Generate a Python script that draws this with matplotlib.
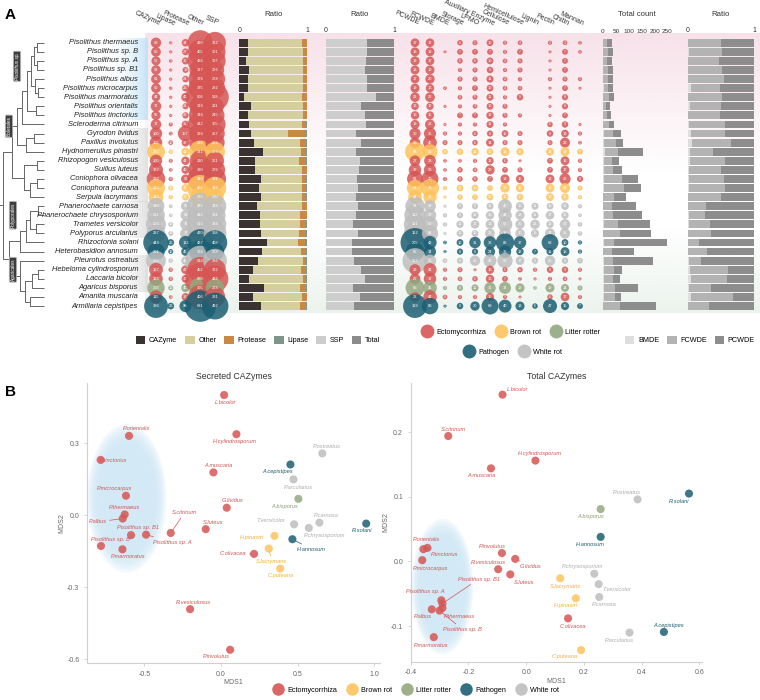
import numpy as np
import matplotlib
matplotlib.use("Agg")
import matplotlib.pyplot as plt
from matplotlib import font_manager as fm
from matplotlib.patches import Patch, Ellipse
from matplotlib.lines import Line2D
from matplotlib.transforms import blended_transform_factory as blend
from matplotlib.colors import to_rgb

W, H = 760, 700
_names = {f.name for f in fm.fontManager.ttflist}
NARROW = "Liberation Sans Narrow" if "Liberation Sans Narrow" in _names else "Liberation Sans"
plt.rcParams["font.family"] = ["Liberation Sans", "DejaVu Sans"]

# ── data ─────────────────────────────────────────────────────────────────────
SPECIES = ["Pisolithus thermaeus", "Pisolithus sp. B", "Pisolithus sp. A", "Pisolithus sp. B1",
           "Pisolithus albus", "Pisolithus microcarpus", "Pisolithus marmoratus",
           "Pisolithus orientalis", "Pisolithus tinctorius", "Scleroderma citrinum",
           "Gyrodon lividus", "Paxillus involutus", "Hydnomerulius pinastri",
           "Rhizopogon vesiculosus", "Suillus luteus", "Coniophora olivacea",
           "Coniophora puteana", "Serpula lacrymans", "Phanerochaete carnosa",
           "Phanerochaete chrysosporium", "Trametes versicolor", "Polyporus arcularius",
           "Rhizoctonia solani", "Heterobasidion annosum", "Pleurotus ostreatus",
           "Hebeloma cylindrosporum", "Laccaria bicolor", "Agaricus bisporus",
           "Amanita muscaria", "Armillaria cepistipes"]
ABBR = ["P.thermaeus", "Pisolithus sp. B", "Pisolithus sp. A", "Pisolithus sp. B1", "P.albus",
        "P.microcarpus", "P.marmoratus", "P.orientalis", "P.tinctorius", "S.citrinum",
        "G.lividus", "P.involutus", "H.pinastri", "R.vesiculosus", "S.luteus", "C.olivacea",
        "C.puteana", "S.lacrymans", "P.carnosa", "P.chrysosporium", "T.versicolor",
        "P.arcularius", "R.solani", "H.annosum", "P.ostreatus", "H.cylindrosporum",
        "L.bicolor", "A.bisporus", "A.muscaria", "A.cepistipes"]
ECOLOGY = ["ECM"] * 12 + ["BR", "ECM", "ECM", "ECM", "BR", "BR", "WR", "WR", "WR", "WR",
                          "PA", "PA", "WR", "ECM", "ECM", "LR", "ECM", "PA"]

# secreted proteins (counts)
cazyme = [68, 60, 52, 58, 61, 60, 44, 72, 55, 72, 100, 105, 212, 100, 132, 232, 216, 146,
          190, 211, 266, 237, 444, 201, 260, 127, 124, 203, 115, 386]
lipase = [2, 2, 3, 2, 2, 3, 2, 2, 2, 6, 5, 10, 8, 6, 4, 8, 12, 8, 5, 4, 12, 12, 26, 12, 8,
          8, 8, 12, 4, 26]
protease = [34, 27, 30, 19, 24, 26, 46, 21, 23, 35, 157, 37, 41, 44, 40, 50, 37, 27, 55, 64,
            74, 74, 113, 45, 45, 47, 37, 45, 37, 96]
other = [430, 405, 436, 317, 376, 375, 606, 316, 346, 412, 326, 336, 341, 290, 390, 440, 467,
         270, 495, 412, 513, 430, 487, 336, 612, 452, 670, 305, 406, 681]
ssp = [322, 301, 307, 226, 278, 282, 518, 211, 245, 305, 257, 253, 266, 221, 276, 331, 346,
       200, 348, 304, 344, 358, 408, 228, 386, 322, 486, 228, 281, 492]

# secreted CAZyme categories (counts)
pcwde = [17, 18, 19, 18, 17, 19, 21, 13, 16, 19, 30, 26, 96, 27, 37, 61, 64, 44, 91, 112,
         121, 122, 205, 85, 153, 29, 27, 86, 22, 139]
fcwde = [17, 18, 17, 19, 20, 16, 22, 12, 15, 23, 35, 45, 54, 33, 36, 70, 79, 43, 34, 37,
         57, 64, 42, 34, 36, 41, 37, 45, 44, 66]
bmde = [0, 1, 0, 0, 0, 2, 0, 1, 0, 1, 3, 5, 6, 2, 2, 3, 3, 1, 1, 3, 3, 1, 2, 1, 4, 3, 3,
        3, 4, 1]
storage = [6, 7, 6, 3, 5, 3, 4, 3, 7, 3, 3, 5, 9, 2, 6, 6, 10, 6, 8, 8, 12, 10, 10, 8, 8,
           5, 4, 8, 3, 9]
lpmo = [5, 7, 6, 5, 5, 7, 5, 4, 7, 3, 6, 6, 12, 3, 4, 6, 10, 7, 8, 12, 17, 10, 31, 8, 25,
        1, 6, 11, 3, 20]
aux_enzyme = [10, 7, 10, 9, 11, 10, 11, 10, 12, 11, 8, 14, 10, 12, 20, 7, 7, 10, 11, 16,
              18, 22, 38, 24, 40, 16, 16, 31, 15, 69]
cellulose = [3, 3, 4, 3, 4, 4, 3, 5, 5, 3, 10, 5, 18, 6, 7, 19, 20, 10, 46, 44, 52, 33, 82,
             36, 56, 5, 7, 34, 3, 40]
hemicellulose = [4, 7, 5, 5, 3, 4, 9, 0, 3, 0, 5, 5, 12, 1, 5, 15, 16, 10, 16, 19, 20, 20,
                 37, 12, 17, 6, 2, 19, 1, 19]
lignin = [0] * 18 + [11, 11, 21, 15, 0, 7, 8, 3, 1, 2, 0, 6]
pectin = [3, 1, 1, 1, 3, 1, 1, 1, 1, 6, 9, 5, 14, 7, 7, 18, 18, 14, 10, 17, 12, 24, 68, 11,
          25, 9, 3, 19, 6, 47]
chitin = [4, 7, 7, 7, 5, 7, 8, 8, 7, 9, 13, 23, 19, 18, 17, 30, 24, 12, 13, 12, 26, 25, 10,
          18, 9, 9, 4, 14, 17, 15]
mannan = [2, 2, 0, 0, 3, 1, 0, 0, 0, 1, 3, 2, 7, 3, 3, 8, 5, 3, 3, 2, 4, 4, 3, 3, 7, 3, 1,
          5, 3, 7]

# NMDS coordinates
sec_mds1 = [-0.628, -0.783, -0.489, -0.587, -0.641, -0.62, -0.643, -0.60, -0.785, -0.328,
            0.037, 0.059, 0.348, -0.202, -0.10, 0.215, 0.385, 0.311, 0.641, 0.572, 0.476,
            0.472, 0.946, 0.465, 0.66, 0.10, 0.02, 0.504, -0.05, 0.452]
sec_mds2 = [0.003, -0.128, -0.081, -0.083, -0.014, 0.081, -0.142, 0.33, 0.23, -0.074, 0.031,
            -0.56, -0.086, -0.391, -0.058, -0.161, -0.222, -0.139, -0.031, -0.053, -0.038,
            0.149, -0.035, -0.10, 0.257, 0.337, 0.50, 0.068, 0.178, 0.211]
tot_mds1 = [-0.29, -0.30, -0.294, -0.29, -0.327, -0.36, -0.32, -0.356, -0.342, -0.27, -0.038,
            -0.084, 0.172, -0.097, -0.055, 0.145, 0.19, 0.118, 0.253, 0.236, 0.251, 0.358,
            0.564, 0.258, 0.386, 0.032, -0.082, 0.258, -0.122, 0.477]
tot_mds2 = [-0.072, -0.076, -0.06, -0.065, -0.074, 0.002, -0.117, 0.019, 0.021, 0.194, 0.004,
            0.013, -0.057, -0.012, -0.02, -0.088, -0.137, -0.026, -0.055, -0.019, -0.035,
            -0.11, 0.105, 0.038, 0.096, 0.156, 0.258, 0.081, 0.144, -0.109]

# ── style ────────────────────────────────────────────────────────────────────
ECO_NAMES = {"ECM": "Ectomycorrhiza", "BR": "Brown rot", "LR": "Litter rotter",
             "PA": "Pathogen", "WR": "White rot"}
ECO_COLORS = {"ECM": "#d65654", "BR": "#fdc35c", "LR": "#93a880", "PA": "#1b5f73",
              "WR": "#bebebe"}
ECO_TEXT = {"ECM": "#cc5552", "BR": "#f0b03c", "LR": "#889c73", "PA": "#1d5b6e",
            "WR": "#ababab"}
SEC_COLORS = {"CAZyme": "#3a3331", "Other": "#d5cf9f", "Protease": "#c98945",
              "Lipase": "#7e958c", "SSP": "#cdcdcd", "Total": "#8b8b8b"}
CAT_COLORS = {"BMDE": "#dedede", "FCWDE": "#b3b3b3", "PCWDE": "#8d8d8d"}

ROW_TOP, ROW_H = 38.2, 9.08
ROW_BOT = ROW_TOP + 30 * ROW_H
rows = np.arange(30)

fig = plt.figure(figsize=(W / 100, H / 100), dpi=100)


def px_axes(x0, y0, x1, y1, **kw):
    return fig.add_axes([x0 / W, 1 - y1 / H, (x1 - x0) / W, (y1 - y0) / H], **kw)


def row_axes(x0, x1, xlim):
    ax = px_axes(x0, ROW_TOP, x1, ROW_BOT)
    ax.set_facecolor("none")
    ax.set_ylim(29.5, -0.5)
    ax.set_xlim(*xlim)
    for s in ax.spines.values():
        s.set_visible(False)
    ax.set_yticks([])
    ax.xaxis.tick_top()
    ax.tick_params(axis="x", length=0, labelsize=5, pad=3, colors="#333333")
    return ax


def header(ax, text, xfrac=0.5):
    ax.text(xfrac, 1 - 15 / H, text, transform=blend(ax.transAxes, fig.transFigure),
            ha="center", va="center", fontsize=5.6, color="#333333")


# ── panel A background gradients ─────────────────────────────────────────────
bg = px_axes(145, 33, 760, 313, zorder=-10)
bg.axis("off")
t = np.linspace(0, 1, 200)[:, None]
pink = np.zeros((200, 1, 4))
pink[..., :3] = to_rgb("#f6dce6")
pink[..., 3] = np.clip(1 - t / 0.5, 0, 1) * 0.85
green = np.zeros((200, 1, 4))
green[..., :3] = to_rgb("#e3eee5")
green[..., 3] = np.clip((t - 0.7) / 0.3, 0, 1) * 0.7
bg.imshow(pink, aspect="auto", extent=(0, 1, 1, 0))
bg.imshow(green, aspect="auto", extent=(0, 1, 1, 0))
bg.set_xlim(0, 1)
bg.set_ylim(1, 0)

shade = px_axes(100, ROW_TOP, 148, ROW_BOT, zorder=-9)
shade.axis("off")
s_ = np.linspace(0, 1, 100)[None, :]
for (r0, r1), col, amax in [((-0.5, 8.5), "#bfe2f6", 0.9), ((9.5, 12.5), "#cfcfcf", 0.6),
                             ((12.5, 17.5), "#cfcfcf", 0.6), ((17.5, 21.5), "#cfcfcf", 0.6),
                             ((23.5, 27.5), "#cfcfcf", 0.6)]:
    img = np.zeros((1, 100, 4))
    img[..., :3] = to_rgb(col)
    img[..., 3] = s_ ** 2 * amax
    shade.imshow(img, aspect="auto", extent=(0, 1, r1, r0))
shade.set_xlim(0, 1)
shade.set_ylim(29.5, -0.5)

# ── tree ─────────────────────────────────────────────────────────────────────
LEAF_X = 44
TREE = (3,
        (12,
         (17, (22, (27, (31, (34, (37, 0, 1), (37, 2, 3)), (35, 4, (38, 5, 6))), (36, 7, 8)), 9),
          (26, (34, 10, 11), 12)),
         (24, (37, 13, 14), (30, (37, 15, 16), 17))),
        (9,
         (20, (26, (30, (38, 18, 19), (36, 20, 21)), 22), 23),
         (20, 24, (25, (32, (38, 25, 26), 27), (30, 28, 29)))))

tree_ax = px_axes(0, ROW_TOP, 46, ROW_BOT)
tree_ax.axis("off")
tree_ax.set_xlim(0, 46)
tree_ax.set_ylim(29.5, -0.5)


def draw_tree(ax, node):
    if isinstance(node, int):
        return LEAF_X, node
    x = node[0]
    ys = []
    for ch in node[1:]:
        cx, cy = draw_tree(ax, ch)
        ax.plot([x, cx], [cy, cy], color="#666666", lw=0.7, solid_capstyle="butt")
        ys.append(cy)
    ax.plot([x, x], [min(ys), max(ys)], color="#666666", lw=0.7)
    return x, (min(ys) + max(ys)) / 2


_, yroot = draw_tree(tree_ax, TREE)
tree_ax.plot([0, 3], [yroot, yroot], color="#666666", lw=0.7)
for txt, x, y, style in [("Pisolithus sp.", 17, 2.6, "italic"), ("Boletales", 9, 9.2, "normal"),
                         ("Polyporales", 13, 19.0, "normal"), ("Agaricales", 13, 25.0, "normal")]:
    tree_ax.text(x, y, txt, rotation=90, ha="center", va="center", fontsize=3.4,
                 color="white", fontstyle=style,
                 bbox=dict(boxstyle="round,pad=0.25", fc="#3d3d3d", ec="#bbbbbb", lw=0.6))

name_ax = px_axes(46, ROW_TOP, 138, ROW_BOT)
name_ax.axis("off")
name_ax.set_xlim(0, 1)
name_ax.set_ylim(29.5, -0.5)
for i, sp in enumerate(SPECIES):
    name_ax.text(1, i, sp, ha="right", va="center", fontsize=5.4, fontstyle="italic",
                 family=[NARROW, "Liberation Sans"], color="#222222")


# ── bubble panels ────────────────────────────────────────────────────────────
def bubbles(ax, columns, labels, scale, base):
    for j, (vals, lab) in enumerate(zip(columns, labels)):
        v = np.array(vals, dtype=float)
        keep = v > 0
        cols = [ECO_COLORS[e] for e in ECOLOGY]
        ax.scatter(np.full(keep.sum(), j), rows[keep], s=v[keep] * scale + base,
                   c=[c for c, k in zip(cols, keep) if k], alpha=0.85, edgecolors="none",
                   clip_on=False, zorder=3)
        for i in rows[keep]:
            ax.text(j, i, f"{int(v[i])}", ha="center", va="center", color="white",
                    fontsize=2.9 if v[i] >= 10 else 2.4, zorder=4)
        ax.text(j + 0.15, 1 - 27 / H, lab, transform=blend(ax.transData, fig.transFigure),
                rotation=-24, rotation_mode="anchor", ha="right", va="bottom", fontsize=5.0,
                color="#333333")
    ax.set_xticks([])


b1 = row_axes(145, 228, (-0.746, 4.881))
bubbles(b1, [cazyme, lipase, protease, other, ssp],
        ["CAZyme", "Lipase", "Protease", "Other", "SSP"], 0.75, 4)

b2 = row_axes(398, 597, (-1.133, 12.133))
bubbles(b2, [pcwde, fcwde, bmde, storage, lpmo, aux_enzyme, cellulose, hemicellulose,
             lignin, pectin, chitin, mannan],
        ["PCWDE", "FCWDE", "BMDE", "Storage", "LPMO", "Auxiliary Enzyme", "Cellulose",
         "Hemicellulose", "Lignin", "Pectin", "Chitin", "Mannan"], 2.1, 3)

# ── ratio / count bars ───────────────────────────────────────────────────────
BAR_H = 0.86


def stacked(ax, parts, colors):
    left = np.zeros(30)
    for p, c in zip(parts, colors):
        ax.barh(rows, p, left=left, height=BAR_H, color=c, edgecolor="none")
        left = left + p


sec_total = np.array(cazyme) + np.array(lipase) + np.array(protease) + np.array(other)
r1 = row_axes(239.3, 307, (0, 1))
stacked(r1, [np.array(cazyme) / sec_total, np.array(other) / sec_total,
             np.array(protease) / sec_total, np.array(lipase) / sec_total],
        [SEC_COLORS[k] for k in ["CAZyme", "Other", "Protease", "Lipase"]])
r1.set_xticks([0, 1])
header(r1, "Ratio")

ssp_frac = np.array(ssp) / sec_total
r2 = row_axes(326, 394, (0, 1))
stacked(r2, [ssp_frac, 1 - ssp_frac], [SEC_COLORS["SSP"], SEC_COLORS["Total"]])
r2.set_xticks([0, 1])
header(r2, "Ratio")

PXU = 0.258
tc = row_axes(600, 690, (-3 / PXU, 87 / PXU))
stacked(tc, [np.array(bmde), np.array(fcwde), np.array(pcwde)],
        [CAT_COLORS[k] for k in ["BMDE", "FCWDE", "PCWDE"]])
tc.set_xticks([0, 50, 100, 150, 200, 250])
tc.tick_params(axis="x", labelsize=4.6)
header(tc, "Total count", xfrac=(637 - 600) / 90)

cat_total = np.array(bmde) + np.array(fcwde) + np.array(pcwde)
r3 = row_axes(687.7, 754, (0, 1))
stacked(r3, [np.array(bmde) / cat_total, np.array(fcwde) / cat_total,
             np.array(pcwde) / cat_total], [CAT_COLORS[k] for k in ["BMDE", "FCWDE", "PCWDE"]])
r3.set_xticks([0, 1])
header(r3, "Ratio")

# ── panel A legends ──────────────────────────────────────────────────────────
leg_kw = dict(frameon=False, fontsize=5.2, handlelength=1.3, handleheight=1.3,
              handletextpad=0.5, columnspacing=1.1, loc="center", borderpad=0)
fig.legend(handles=[Patch(fc=SEC_COLORS[k], label=k) for k in
                    ["CAZyme", "Other", "Protease", "Lipase", "SSP", "Total"]],
           ncol=6, bbox_to_anchor=(258 / W, 1 - 340 / H), **leg_kw)
fig.legend(handles=[Patch(fc=CAT_COLORS[k], label=k) for k in ["BMDE", "FCWDE", "PCWDE"]],
           ncol=3, bbox_to_anchor=(690 / W, 1 - 340 / H), **leg_kw)


def eco_handle(k, ms):
    return Line2D([], [], ls="none", marker="o", ms=ms, mfc=ECO_COLORS[k], mec="none",
                  alpha=0.9, label=ECO_NAMES[k])


eco_kw = dict(frameon=False, fontsize=5.2, handletextpad=0.3, columnspacing=1.0,
              loc="center", borderpad=0)
fig.legend(handles=[eco_handle(k, 10) for k in ["ECM", "BR", "LR"]], ncol=3,
           bbox_to_anchor=(510 / W, 1 - 332 / H), **eco_kw)
fig.legend(handles=[eco_handle(k, 10) for k in ["PA", "WR"]], ncol=2,
           bbox_to_anchor=(512 / W, 1 - 352 / H), **eco_kw)

fig.text(5 / W, 1 - 15 / H, "A", fontsize=11, fontweight="bold", va="center")
fig.text(5 / W, 1 - 392 / H, "B", fontsize=11, fontweight="bold", va="center")

# ── panel B: NMDS ────────────────────────────────────────────────────────────
SEC_OFFSETS = [(0, 5), (6.5, 5), (18.7, -5.3), (5.3, 5.8), (-18, -2.4), (-8.2, 5.3),
               (4.3, -5.5), (5.3, 5.3), (9.6, -0.2), (9.8, 14.4), (4, 5), (-9.6, -4.8),
               (-16.3, -1.4), (2.4, 5), (5.5, 4.8), (-14.9, 0), (0.5, -5.3), (2.2, -9.1),
               (4.8, 5.3), (11, -5.5), (-16.8, 2.4), (3.6, -5.8), (-3.1, -5.3), (13.9, -7.2),
               (3.6, 5.3), (-1, -5.3), (1, -5.5), (-9.6, -5.8), (3.6, 5), (-9.4, -4.8)]
SEC_LINES = {2, 4, 9, 14, 15, 17, 23}
TOT_OFFSETS = [(12.5, -5.8), (16.3, -13.4), (-11.3, 6.2), (26, 17.5), (-6.7, -5.5),
               (6, -6), (-1.7, -5.8), (2.4, 6.7), (12.5, -4.6), (3.8, 5), (10.8, -5.5),
               (-7.2, 5), (-7.2, -5.5), (-7.2, 5), (9.6, -5.5), (3.6, -5.8), (-11.8, -4.6),
               (3.8, -5.8), (3.6, -5.3), (-8.4, 5), (13, -4.1), (-7.4, -5.5), (-7, -5.5),
               (-7.2, -5.5), (-7.9, 4.8), (2.9, 5.3), (10.6, 3.8), (-7.2, -5.5), (-7.2, -5.5),
               (3.6, 4.8)]
TOT_LINES = {1, 3, 8, 10}


def mds_panel(ax, xs, ys, offsets, lines, title, ell):
    ax.set_facecolor("none")
    cx, cy, w, h = ell
    for k in range(8):
        f = 1 - 0.035 * k
        ax.add_patch(Ellipse((cx, cy), w * f, h * f, fc="#cfe8f6", ec="none", alpha=0.22,
                             zorder=0))
    cols = [ECO_COLORS[e] for e in ECOLOGY]
    ax.scatter(xs, ys, s=34, c=cols, alpha=0.85, edgecolors="none", zorder=3)
    for i, name in enumerate(ABBR):
        tcol = ECO_TEXT[ECOLOGY[i]]
        arrow = (dict(arrowstyle="-", color=tcol, lw=0.5, shrinkA=0, shrinkB=2.5)
                 if i in lines else None)
        ax.annotate(name, (xs[i], ys[i]), xytext=offsets[i], textcoords="offset points",
                    ha="center", va="center", fontsize=4.1, fontstyle="italic", color=tcol,
                    family=[NARROW, "Liberation Sans"], arrowprops=arrow, zorder=4)
    for s in ["top", "right"]:
        ax.spines[s].set_visible(False)
    for s in ["left", "bottom"]:
        ax.spines[s].set_color("#d0d0d0")
        ax.spines[s].set_linewidth(0.8)
    ax.tick_params(labelsize=5, colors="#d0d0d0", labelcolor="#666666", length=2, width=0.6)
    ax.set_xlabel("MDS1", fontsize=5, color="#666666", labelpad=1)
    ax.set_ylabel("MDS2", fontsize=5, color="#666666", labelpad=1)
    ax.set_title(title, fontsize=6.3, color="#333333", pad=3)


axL = px_axes(87, 383, 380, 663)
axL.set_xlim(-0.874, 1.036)
axL.set_ylim(-0.615, 0.55)
axL.set_xticks([-0.5, 0, 0.5, 1.0])
axL.set_yticks([-0.6, -0.3, 0, 0.3])
axL.xaxis.set_major_formatter(matplotlib.ticker.FormatStrFormatter("%.1f"))
axL.yaxis.set_major_formatter(matplotlib.ticker.FormatStrFormatter("%.1f"))
mds_panel(axL, sec_mds1, sec_mds2, SEC_OFFSETS, SEC_LINES, "Secreted CAZymes",
          (-0.615, 0.07, 0.517, 0.619))

axR = px_axes(410.7, 383, 701.7, 661.7)
axR.set_xlim(-0.4, 0.608)
axR.set_ylim(-0.155, 0.276)
axR.set_xticks([-0.4, -0.2, 0, 0.2, 0.4, 0.6])
axR.set_yticks([-0.1, 0, 0.1, 0.2])
axR.xaxis.set_major_formatter(matplotlib.ticker.FormatStrFormatter("%.1f"))
axR.yaxis.set_major_formatter(matplotlib.ticker.FormatStrFormatter("%.1f"))
mds_panel(axR, tot_mds1, tot_mds2, TOT_OFFSETS, TOT_LINES, "Total CAZymes",
          (-0.29, -0.039, 0.213, 0.21))

fig.legend(handles=[eco_handle(k, 9) for k in ["ECM", "BR", "LR", "PA", "WR"]], ncol=5,
           bbox_to_anchor=(415 / W, 1 - 690 / H), **eco_kw)

fig.savefig("out.png", dpi=100)
